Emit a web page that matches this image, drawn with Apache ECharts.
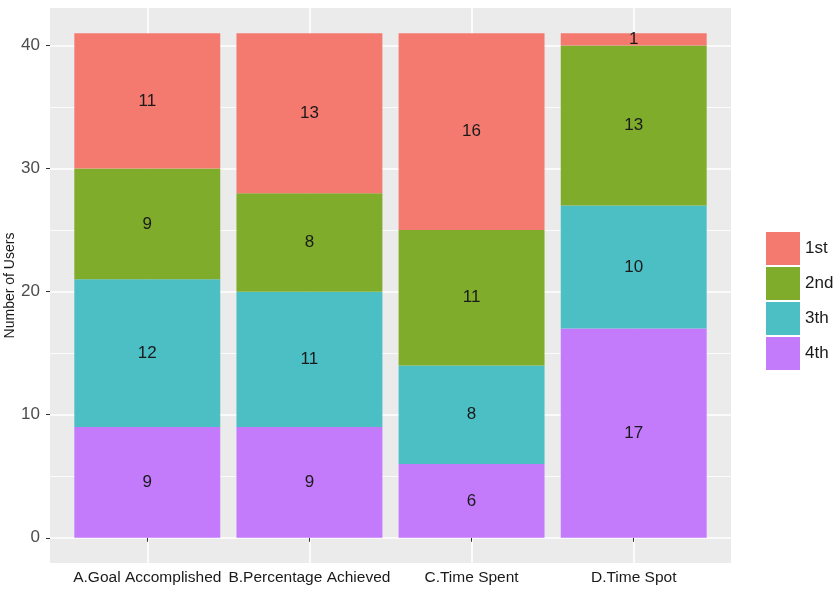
<!DOCTYPE html>
<html>
<head>
<meta charset="utf-8">
<script src="https://cdn.jsdelivr.net/npm/echarts@6/dist/echarts.min.js"></script>
<style>html,body{margin:0;padding:0;background:#fff}#c{width:837px;height:599px}</style>
</head>
<body>
<div id="c"></div>
<script>
const categories = ['A.Goal Accomplished', 'B.Percentage Achieved', 'C.Time Spent', 'D.Time Spot'];
const rank1 = [11, 13, 16, 1];
const rank2 = [9, 8, 11, 13];
const rank3 = [12, 11, 8, 10];
const rank4 = [9, 9, 6, 17];
const yTicks = [0, 10, 20, 30, 40];
const yMinorTicks = [5, 15, 25, 35];
const xGridPos = [1, 2, 3, 4];
const seriesNames = ['1st', '2nd', '3th', '4th'];
const colors = {'1st': '#F47A6F', '2nd': '#7FAC2A', '3th': '#4BBFC4', '4th': '#C37BFB'};

const FONT = "'Liberation Sans', Arial, sans-serif";
const YMIN = -2.05, YMAX = 43.05;

// panel: x 50..731, y 8..563 ; categories at 1..4 within 0.4..4.6
const PL = 50, PR = 106, PT = 8, PB = 36;
const band = (837 - PL - PR) / 4.2;
const pad = band * 0.1;

function mk(name, vals) {
  return {
    name: name,
    type: 'bar',
    stack: 'total',
    barWidth: '90%',
    xAxisIndex: 1,
    yAxisIndex: 2,
    itemStyle: { color: colors[name] },
    label: {
      show: true,
      position: 'inside',
      color: '#1a1a1a',
      fontSize: 17,
      fontFamily: FONT,
      textBorderWidth: 0,
      formatter: p => p.value
    },
    emphasis: { disabled: true },
    data: vals
  };
}

const chart = echarts.init(document.getElementById('c'), null, { renderer: 'canvas' });
chart.setOption({
  animation: false,
  backgroundColor: '#ffffff',
  textStyle: { fontFamily: FONT },
  grid: [{
    left: PL, right: PR, top: PT, bottom: PB,
    outerBoundsMode: 'none', containLabel: false,
    show: true, backgroundColor: '#EBEBEB', borderWidth: 0
  }, {
    left: PL + pad, right: PR + pad, top: PT, bottom: PB,
    outerBoundsMode: 'none', containLabel: false,
    show: false
  }],
  legend: {
    orient: 'vertical',
    left: 766, top: 232,
    padding: 0,
    itemWidth: 34, itemHeight: 33, itemGap: 2,
    icon: 'rect',
    data: seriesNames,
    textStyle: { fontSize: 17, color: '#1a1a1a', fontFamily: FONT },
    selectedMode: false
  },
  xAxis: [{
    gridIndex: 0,
    type: 'value',
    min: 0.4, max: 4.6,
    axisLine: { show: false },
    axisTick: { show: false, customValues: xGridPos },
    axisLabel: { show: false, customValues: xGridPos },
    splitLine: { show: true, lineStyle: { color: '#ffffff', width: 1.6 } }
  }, {
    gridIndex: 1,
    type: 'category',
    data: categories,
    axisLine: { show: false },
    axisTick: { show: true, alignWithLabel: true, length: 4, lineStyle: { color: '#333' } },
    axisLabel: { interval: 0, color: '#1a1a1a', fontSize: 15.5, margin: 7, fontFamily: FONT, hideOverlap: false },
    splitLine: { show: false }
  }],
  yAxis: [{
    gridIndex: 0,
    type: 'value',
    min: YMIN, max: YMAX,
    name: 'Number of Users',
    nameLocation: 'middle',
    nameGap: 33,
    nameMoveOverlap: false,
    nameTextStyle: { fontSize: 14, color: '#1a1a1a', fontFamily: FONT },
    axisLine: { show: false },
    axisTick: { show: true, length: 4, lineStyle: { color: '#333' }, customValues: yTicks },
    axisLabel: { customValues: yTicks, color: '#4D4D4D', fontSize: 17, margin: 10, fontFamily: FONT },
    splitLine: { show: true, lineStyle: { color: '#ffffff', width: 1.6 } }
  }, {
    gridIndex: 0,
    type: 'value',
    position: 'left',
    min: YMIN, max: YMAX,
    axisLine: { show: false },
    axisTick: { show: false, customValues: yMinorTicks },
    axisLabel: { show: false, customValues: yMinorTicks },
    splitLine: { show: true, lineStyle: { color: '#ffffff', width: 0.8 } }
  }, {
    gridIndex: 1,
    type: 'value',
    min: YMIN, max: YMAX,
    show: false,
    splitLine: { show: false }
  }],
  series: [mk('4th', rank4), mk('3th', rank3), mk('2nd', rank2), mk('1st', rank1)]
});
</script>
</body>
</html>
